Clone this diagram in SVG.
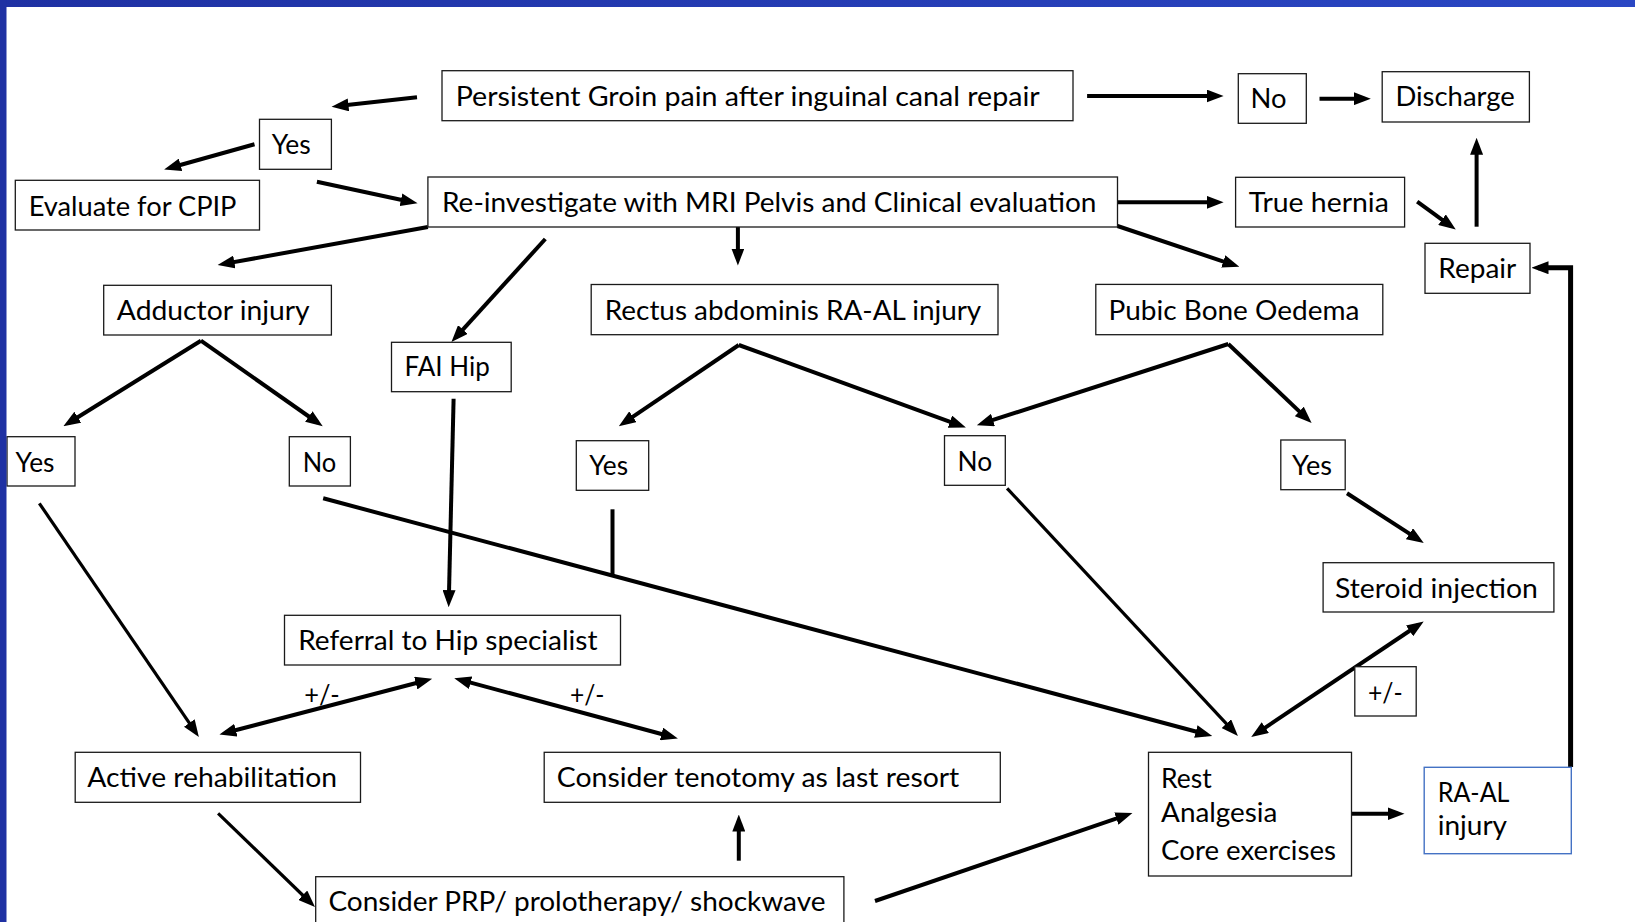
<svg xmlns="http://www.w3.org/2000/svg" width="1635" height="922" viewBox="0 0 1635 922">
<defs>
<style>
.b{fill:#fff;stroke:#1a1a1a;stroke-width:1.3}
.bb{fill:#fff;stroke:#4472c4;stroke-width:1.4}
.t{font-family:Lato,"Open Sans","Liberation Sans",sans-serif;font-size:26px;fill:#000}
.c{fill:none;stroke:#000;stroke-width:4}
.c3{fill:none;stroke:#000;stroke-width:3.2}
.a{marker-end:url(#ah)}
.d{marker-start:url(#ah);marker-end:url(#ah)}
</style>
<marker id="ah" viewBox="0 0 17 13" markerUnits="userSpaceOnUse" markerWidth="17" markerHeight="13" refX="10.5" refY="6.5" orient="auto-start-reverse">
<path d="M0,0 L17,6.5 L0,13 z" fill="#000"/>
</marker>
<linearGradient id="bl" x1="0" y1="0" x2="1" y2="0">
<stop offset="0" stop-color="#1f31a3"/>
<stop offset="1" stop-color="#2a47c4"/>
</linearGradient>
</defs>
<rect x="0" y="0" width="1635" height="922" fill="#fff"/>

<g id="connectors">
<line class="c a" x1="417" y1="97.3" x2="338" y2="106"/>
<line class="c a" x1="254.5" y1="144.3" x2="170.4" y2="167.7"/>
<line class="c a" x1="316.9" y1="181.7" x2="411.2" y2="202"/>
<line class="c a" x1="427.9" y1="227" x2="224" y2="263.9"/>
<line class="c a" x1="545.3" y1="239" x2="455.8" y2="337.3"/>
<line class="c a" x1="737.9" y1="227" x2="737.9" y2="259"/>
<line class="c a" x1="1117.5" y1="226" x2="1233.2" y2="264.8"/>
<line class="c a" x1="1117.5" y1="202.3" x2="1217.1" y2="202.3"/>
<line class="c a" x1="1087.1" y1="96" x2="1217.1" y2="96"/>
<line class="c a" x1="1319.5" y1="98.7" x2="1364.3" y2="98.7"/>
<line class="c a" x1="1417.2" y1="201.7" x2="1450.5" y2="225.8"/>
<line class="c a" x1="1476.6" y1="226.7" x2="1476.6" y2="144.3"/>
<path class="c a" style="stroke-width:5" d="M1570.6,767 V267.7 H1538"/>
<line class="c a" x1="200.9" y1="340.7" x2="68.9" y2="422.8"/>
<line class="c a" x1="200.9" y1="340.7" x2="317.4" y2="422.5"/>
<line class="c a" x1="738.8" y1="345" x2="624.2" y2="422.6"/>
<line class="c a" x1="738.8" y1="345" x2="959.8" y2="425.3"/>
<line class="c a" x1="1228.3" y1="344" x2="983" y2="423.2"/>
<line class="c a" x1="1228.3" y1="344" x2="1306.9" y2="418.6"/>
<line class="c a" x1="453.6" y1="398.7" x2="448.8" y2="600.7"/>
<line class="c3 a" x1="39.3" y1="503.3" x2="195.2" y2="731.7"/>
<line class="c a" x1="323.2" y1="498.3" x2="1206" y2="734.2"/>
<line class="c" x1="612.5" y1="509.3" x2="612.5" y2="577"/>
<line class="c3 a" x1="1007.1" y1="488.3" x2="1233.5" y2="731.3"/>
<line class="c a" x1="1347" y1="493.3" x2="1418.3" y2="539.4"/>
<line class="c d" x1="1256.6" y1="733.4" x2="1418.3" y2="625"/>
<line class="c d" x1="225.7" y1="732.8" x2="425.9" y2="680.5"/>
<line class="c d" x1="460.5" y1="679.9" x2="671.6" y2="736.7"/>
<line class="c3 a" x1="218.1" y1="813.3" x2="310.3" y2="902.5"/>
<line class="c a" x1="738.8" y1="860.7" x2="738.8" y2="821"/>
<line class="c a" x1="875" y1="901" x2="1126.3" y2="815.2"/>
<line class="c a" x1="1351.5" y1="813.7" x2="1398" y2="813.7"/>
</g>

<g id="persistent"><rect class="b" x="442" y="70.7" width="631" height="50"/><text class="t" x="455.7" y="106" textLength="584" lengthAdjust="spacingAndGlyphs">Persistent Groin pain after inguinal canal repair</text></g>
<g id="no-top"><rect class="b" x="1238.3" y="73.7" width="68" height="49.6"/><text class="t" x="1250.5" y="108.3" textLength="36" lengthAdjust="spacingAndGlyphs">No</text></g>
<g id="discharge"><rect class="b" x="1382.2" y="71.7" width="147.2" height="50.3"/><text class="t" x="1395.4" y="106" textLength="119.4" lengthAdjust="spacingAndGlyphs">Discharge</text></g>
<g id="yes-top"><rect class="b" x="259.5" y="119.3" width="71.9" height="50"/><text class="t" x="271.7" y="154.3" textLength="39.1" lengthAdjust="spacingAndGlyphs">Yes</text></g>
<g id="evaluate"><rect class="b" x="15.3" y="180.3" width="244.2" height="49.7"/><text class="t" x="28.7" y="216" textLength="207.8" lengthAdjust="spacingAndGlyphs">Evaluate for CPIP</text></g>
<g id="reinvestigate"><rect class="b" x="427.9" y="177" width="689.6" height="50"/><text class="t" x="442" y="212" textLength="654.4" lengthAdjust="spacingAndGlyphs">Re-investigate with MRI Pelvis and Clinical evaluation</text></g>
<g id="true-hernia"><rect class="b" x="1235.6" y="177.3" width="169" height="49.7"/><text class="t" x="1248.8" y="211.7" textLength="140" lengthAdjust="spacingAndGlyphs">True hernia</text></g>
<g id="repair"><rect class="b" x="1425" y="243.3" width="105" height="50"/><text class="t" x="1438.3" y="277.7" textLength="77.9" lengthAdjust="spacingAndGlyphs">Repair</text></g>
<g id="adductor"><rect class="b" x="103.7" y="285.3" width="227.7" height="49.7"/><text class="t" x="116.8" y="319.7" textLength="192.9" lengthAdjust="spacingAndGlyphs">Adductor injury</text></g>
<g id="rectus"><rect class="b" x="591.2" y="284.5" width="406.8" height="50.2"/><text class="t" x="604.8" y="319.7" textLength="376.4" lengthAdjust="spacingAndGlyphs">Rectus abdominis RA-AL injury</text></g>
<g id="pubic"><rect class="b" x="1095.8" y="284.4" width="287" height="50.3"/><text class="t" x="1108.6" y="319.5" textLength="250.8" lengthAdjust="spacingAndGlyphs">Pubic Bone Oedema</text></g>
<g id="fai"><rect class="b" x="391.5" y="342.3" width="119.7" height="49.4"/><text class="t" x="404.5" y="376" textLength="85.2" lengthAdjust="spacingAndGlyphs">FAI Hip</text></g>
<g id="yes-adductor"><rect class="b" x="7" y="436.7" width="68" height="49.3"/><text class="t" x="15.6" y="471.7" textLength="38.9" lengthAdjust="spacingAndGlyphs">Yes</text></g>
<g id="no-adductor"><rect class="b" x="289.3" y="436.7" width="61.1" height="49.3"/><text class="t" x="302.7" y="471.7" textLength="33.5" lengthAdjust="spacingAndGlyphs">No</text></g>
<g id="yes-rectus"><rect class="b" x="576.3" y="440.7" width="72.4" height="49.6"/><text class="t" x="589.3" y="475.3" textLength="38.8" lengthAdjust="spacingAndGlyphs">Yes</text></g>
<g id="no-mid"><rect class="b" x="944.5" y="435.7" width="60.8" height="49.6"/><text class="t" x="957.6" y="470.7" textLength="34.6" lengthAdjust="spacingAndGlyphs">No</text></g>
<g id="yes-pubic"><rect class="b" x="1280.8" y="440" width="64.4" height="49.7"/><text class="t" x="1292.1" y="475" textLength="40" lengthAdjust="spacingAndGlyphs">Yes</text></g>
<g id="steroid"><rect class="b" x="1323.1" y="562.7" width="230.8" height="49.3"/><text class="t" x="1335" y="597.7" textLength="202.8" lengthAdjust="spacingAndGlyphs">Steroid injection</text></g>
<g id="referral"><rect class="b" x="284.5" y="615.3" width="336" height="49.7"/><text class="t" x="298.2" y="650" textLength="299.3" lengthAdjust="spacingAndGlyphs">Referral to Hip specialist</text></g>
<g id="pm-left"><text class="t" x="304.2" y="704" textLength="35.6" lengthAdjust="spacingAndGlyphs">+/-</text></g>
<g id="pm-mid"><text class="t" x="570" y="704" textLength="34.5" lengthAdjust="spacingAndGlyphs">+/-</text></g>
<g id="pm-right"><rect class="b" x="1354.8" y="666.7" width="61.4" height="49.3"/><text class="t" x="1367.9" y="702" textLength="34.7" lengthAdjust="spacingAndGlyphs">+/-</text></g>
<g id="active"><rect class="b" x="75.2" y="752.3" width="285.3" height="50"/><text class="t" x="87.3" y="786.7" textLength="249.7" lengthAdjust="spacingAndGlyphs">Active rehabilitation</text></g>
<g id="tenotomy"><rect class="b" x="544.2" y="752.3" width="456.1" height="50"/><text class="t" x="556.8" y="786.7" textLength="402.5" lengthAdjust="spacingAndGlyphs">Consider tenotomy as last resort</text></g>
<g id="prp"><rect class="b" x="315.7" y="876.7" width="528.2" height="60"/><text class="t" x="328.4" y="910.7" textLength="497.1" lengthAdjust="spacingAndGlyphs">Consider PRP/ prolotherapy/ shockwave</text></g>
<g id="rest"><rect class="b" x="1148.5" y="752.3" width="203" height="123.7"/><text class="t" x="1161.1" y="787.7" textLength="50.7" lengthAdjust="spacingAndGlyphs">Rest</text><text class="t" x="1161.1" y="821.7" textLength="116.3" lengthAdjust="spacingAndGlyphs">Analgesia</text><text class="t" x="1161.1" y="860" textLength="174.9" lengthAdjust="spacingAndGlyphs">Core exercises</text></g>
<g id="ra-al"><rect class="bb" x="1424.2" y="767.3" width="147.1" height="86.4"/><text class="t" x="1437.7" y="801.7" textLength="71.8" lengthAdjust="spacingAndGlyphs">RA-AL</text><text class="t" x="1437.7" y="834.5" textLength="69.4" lengthAdjust="spacingAndGlyphs">injury</text></g>

<g id="frame">
<rect x="0" y="0" width="1635" height="7" fill="url(#bl)"/>
<rect x="0" y="0" width="6.5" height="922" fill="#1f31a3"/>
</g>
</svg>
